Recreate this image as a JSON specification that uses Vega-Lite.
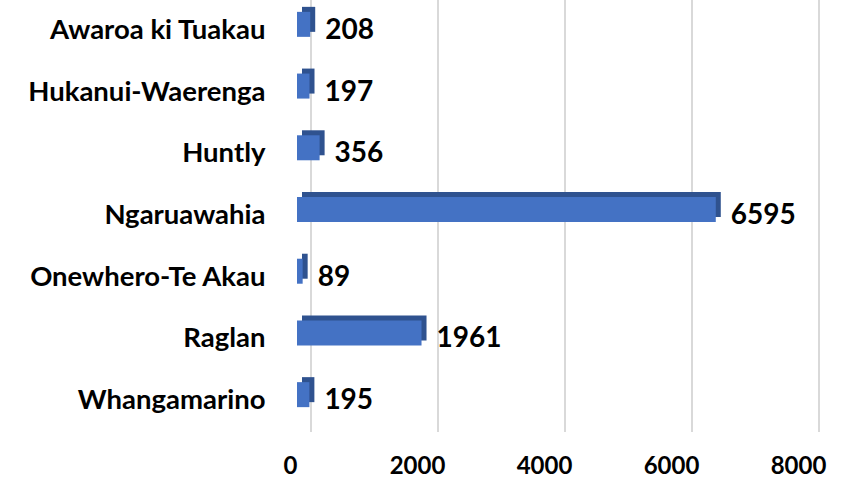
{
  "$schema": "https://vega.github.io/schema/vega-lite/v6.json",
  "width": 508,
  "height": 432,
  "autosize": {"type": "none"},
  "padding": {"left": 297, "top": 0, "right": 41, "bottom": 47},
  "background": "white",
  "config": {"view": {"stroke": null}, "font": "Lato"},
  "datasets": {
    "areas": [
      {"area": "Awaroa ki Tuakau", "value": 208},
      {"area": "Hukanui-Waerenga", "value": 197},
      {"area": "Huntly", "value": 356},
      {"area": "Ngaruawahia", "value": 6595},
      {"area": "Onewhero-Te Akau", "value": 89},
      {"area": "Raglan", "value": 1961},
      {"area": "Whangamarino", "value": 195}
    ],
    "ticks": [{"t": 0}, {"t": 2000}, {"t": 4000}, {"t": 6000}, {"t": 8000}]
  },
  "layer": [
    {
      "data": {"name": "ticks"},
      "mark": {"type": "rule", "xOffset": 14, "color": "#d9d9d9", "strokeWidth": 2},
      "encoding": {
        "x": {
          "field": "t", "type": "quantitative",
          "scale": {"domain": [0, 8000], "nice": false},
          "axis": {
            "values": [0, 2000, 4000, 6000, 8000],
            "title": null, "grid": false, "domain": false, "ticks": false,
            "labelFontSize": 24, "labelFontWeight": "bold", "labelColor": "#000000",
            "labelOffset": -7, "labelPadding": 22, "labelFlush": false, "labelOverlap": false, "format": "d"
          }
        }
      }
    },
    {
      "data": {"name": "areas"},
      "mark": {"type": "bar", "color": "#2F528F", "size": 25, "xOffset": 5, "yOffset": -11.5},
      "encoding": {
        "x": {"field": "value", "type": "quantitative"},
        "y": {"field": "area", "type": "nominal", "sort": null,
              "scale": {"paddingInner": 0, "paddingOuter": 0},
              "axis": {"title": null, "domain": false, "ticks": false, "labelFontSize": 27.5,
                       "labelFontWeight": "bold", "labelColor": "#000000", "labelPadding": 32, "labelLimit": 0}}
      }
    },
    {
      "data": {"name": "areas"},
      "mark": {"type": "bar", "color": "#4472C4", "size": 25, "yOffset": -6.5},
      "encoding": {
        "x": {"field": "value", "type": "quantitative"},
        "y": {"field": "area", "type": "nominal", "sort": null}
      }
    },
    {
      "data": {"name": "areas"},
      "mark": {"type": "text", "align": "left", "baseline": "middle", "dx": 15, "fontSize": 28, "fontWeight": "bold", "color": "#000000"},
      "encoding": {
        "x": {"field": "value", "type": "quantitative"},
        "y": {"field": "area", "type": "nominal", "sort": null},
        "text": {"field": "value", "type": "quantitative", "format": "d"}
      }
    }
  ]
}
